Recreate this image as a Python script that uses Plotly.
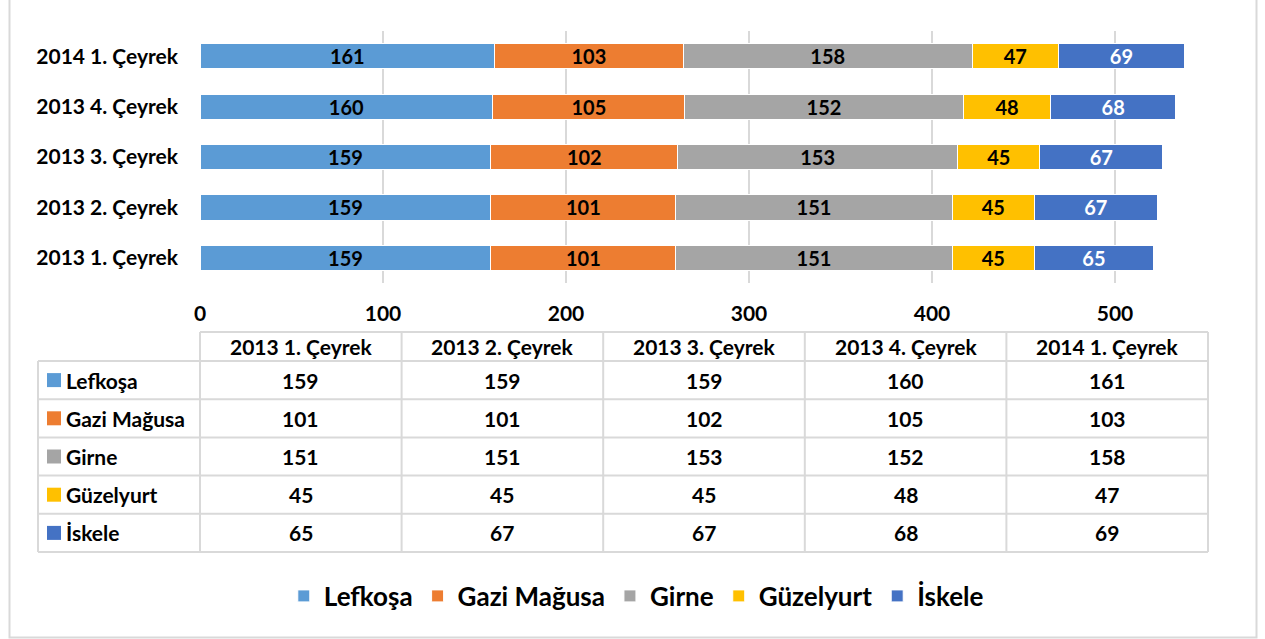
import plotly.graph_objects as go

# ---------------- data ----------------
categories = ["2013 1. Çeyrek", "2013 2. Çeyrek", "2013 3. Çeyrek", "2013 4. Çeyrek", "2014 1. Çeyrek"]
series_names = ["Lefkoşa", "Gazi Mağusa", "Girne", "Güzelyurt", "İskele"]
lefkosa = [159, 159, 159, 160, 161]
gazi_magusa = [101, 101, 102, 105, 103]
girne = [151, 151, 153, 152, 158]
guzelyurt = [45, 45, 45, 48, 47]
iskele = [65, 67, 67, 68, 69]
x_ticks = [0, 100, 200, 300, 400, 500]

series_values = [lefkosa, gazi_magusa, girne, guzelyurt, iskele]
colors = ["#5B9BD5", "#ED7D31", "#A5A5A5", "#FFC000", "#4472C4"]
text_colors = ["#000000", "#000000", "#000000", "#000000", "#FFFFFF"]

W, H = 1265, 639
FONT = "Lato"
GRID = "#D9D9D9"


def px(x):
    return x / W


def py(y):
    return 1 - y / H


plot_left, plot_right = 200, 1208
plot_top, plot_bottom = 31, 283
x_max = 500 * (plot_right - plot_left) / (1116 - 201)

fig = go.Figure()
for name, vals, c, tc in zip(series_names, series_values, colors, text_colors):
    fig.add_trace(go.Bar(
        y=categories, x=vals, name=name, orientation="h",
        marker=dict(color=c, line=dict(color="white", width=1)),
        text=vals, textposition="inside", insidetextanchor="middle",
        constraintext="none", textangle=0,
        textfont=dict(family=FONT, size=20, color=tc, weight="bold"),
        hoverinfo="x+y+name",
    ))

shapes = []
annotations = []

# outer frame
shapes.append(dict(type="rect", xref="paper", yref="paper",
                   x0=px(9.5), x1=px(1256.5), y0=py(637.5), y1=py(-10),
                   line=dict(color=GRID, width=2), fillcolor="rgba(0,0,0,0)", layer="below"))

# ---------------- data table ----------------
n = len(categories)
col_w = (plot_right - plot_left) / n
label_left = 38
header_top, header_bot = 332, 361
row_h = 38.2
line_style = dict(color=GRID, width=2)

row_edges = [header_bot + i * row_h for i in range(len(series_names) + 1)]
col_edges = [plot_left + i * col_w for i in range(n + 1)]

shapes.append(dict(type="line", xref="paper", yref="paper",
                   x0=px(plot_left), x1=px(plot_right), y0=py(header_top), y1=py(header_top), line=line_style))
for ye in row_edges:
    shapes.append(dict(type="line", xref="paper", yref="paper",
                       x0=px(label_left), x1=px(plot_right), y0=py(ye), y1=py(ye), line=line_style))
shapes.append(dict(type="line", xref="paper", yref="paper",
                   x0=px(label_left), x1=px(label_left), y0=py(header_bot), y1=py(row_edges[-1]), line=line_style))
for xe in col_edges:
    shapes.append(dict(type="line", xref="paper", yref="paper",
                       x0=px(xe), x1=px(xe), y0=py(header_top), y1=py(row_edges[-1]), line=line_style))

tfont = dict(family=FONT, size=21, color="black", weight="bold")
for j, cat in enumerate(categories):
    cx = plot_left + (j + 0.5) * col_w
    annotations.append(dict(xref="paper", yref="paper", x=px(cx), y=py((header_top + header_bot) / 2),
                            text=cat, showarrow=False, font=tfont, xanchor="center", yanchor="middle"))
for i, (name, vals, c) in enumerate(zip(series_names, series_values, colors)):
    cy = (row_edges[i] + row_edges[i + 1]) / 2
    shapes.append(dict(type="rect", xref="paper", yref="paper",
                       x0=px(47), x1=px(61), y0=py(cy - 7), y1=py(cy + 7),
                       fillcolor=c, line=dict(width=0)))
    annotations.append(dict(xref="paper", yref="paper", x=px(64), y=py(cy),
                            text=name, showarrow=False, font=tfont, xanchor="left", yanchor="middle"))
    for j, v in enumerate(vals):
        cx = plot_left + (j + 0.5) * col_w
        annotations.append(dict(xref="paper", yref="paper", x=px(cx), y=py(cy),
                                text=str(v), showarrow=False, font=tfont, xanchor="center", yanchor="middle"))

fig.update_layout(
    width=W, height=H,
    margin=dict(l=0, r=0, t=0, b=0, autoexpand=False),
    paper_bgcolor="white", plot_bgcolor="white",
    barmode="stack", bargap=0.5,
    font=dict(family=FONT, color="black"),
    xaxis=dict(domain=[px(plot_left), px(plot_right)], range=[0, x_max],
               tickvals=x_ticks, showgrid=True, gridcolor=GRID, gridwidth=2,
               zeroline=False, showline=False, ticks="", automargin=False,
               tickfont=dict(family=FONT, size=21, color="black", weight="bold"),
               ticklabelstandoff=16, fixedrange=True),
    yaxis=dict(domain=[py(plot_bottom), py(plot_top)], showgrid=False, zeroline=False,
               showline=False, ticks="", automargin=False,
               tickfont=dict(family=FONT, size=21, color="black", weight="bold"),
               ticklabelstandoff=21, fixedrange=True),
    legend=dict(orientation="h", x=0.503, xanchor="center", y=py(596), yanchor="middle",
                font=dict(family=FONT, size=26, color="black", weight="bold"),
                traceorder="normal", itemclick=False, itemdoubleclick=False),
    shapes=shapes, annotations=annotations,
)

fig.write_html("out.html", config={"displayModeBar": False},
               post_script="document.body.style.margin='0';document.body.style.overflow='hidden';")
